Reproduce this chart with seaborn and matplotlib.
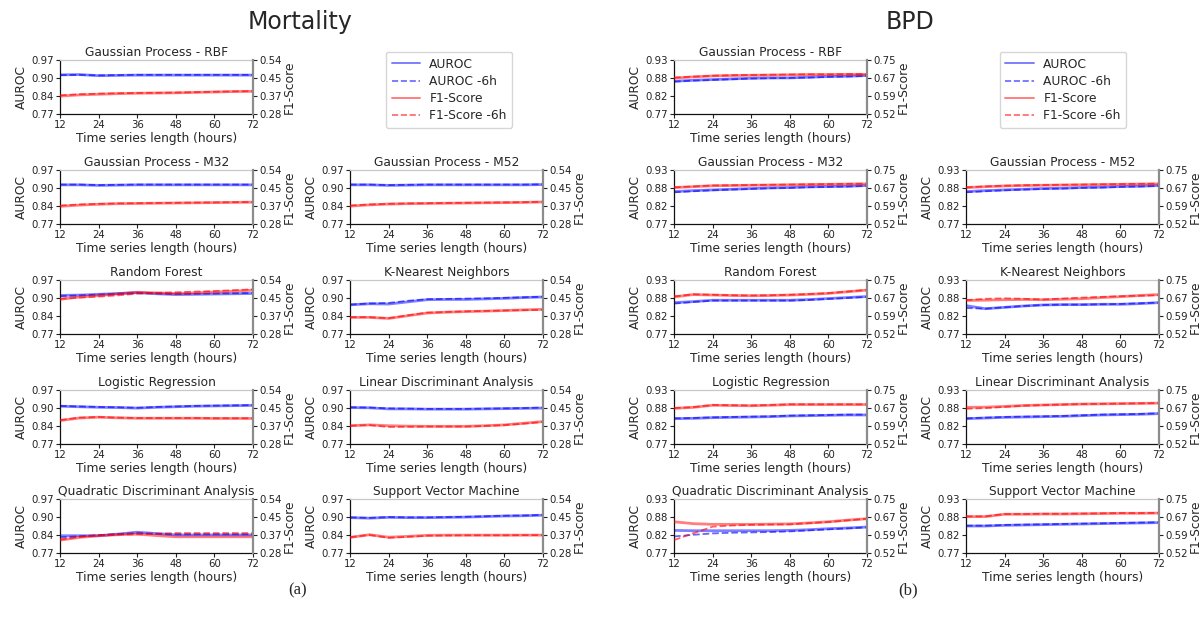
import numpy as np
import pandas as pd
import seaborn as sns
import matplotlib
matplotlib.use("Agg")
import matplotlib.pyplot as plt
from matplotlib.lines import Line2D

sns.set_style("ticks")
plt.rcParams['font.family'] = ['DejaVu Sans']

# ---------------- data ----------------
HOURS = [12, 18, 24, 30, 36, 42, 48, 54, 60, 66, 72]
XTICKS = [12, 24, 36, 48, 60, 72]

MODELS = ["Gaussian Process - RBF", "Gaussian Process - M32", "Gaussian Process - M52",
          "Random Forest", "K-Nearest Neighbors", "Logistic Regression",
          "Linear Discriminant Analysis", "Quadratic Discriminant Analysis",
          "Support Vector Machine"]

# Mortality
MORT_AUROC = {
    "Gaussian Process - RBF": [0.915, 0.916, 0.912, 0.913, 0.914, 0.914, 0.914, 0.914, 0.914, 0.914, 0.914],
    "Gaussian Process - M32": [0.915, 0.915, 0.913, 0.914, 0.915, 0.915, 0.915, 0.915, 0.915, 0.915, 0.915],
    "Gaussian Process - M52": [0.915, 0.915, 0.913, 0.914, 0.915, 0.915, 0.915, 0.915, 0.915, 0.915, 0.916],
    "Random Forest": [0.913, 0.914, 0.917, 0.920, 0.923, 0.919, 0.916, 0.917, 0.918, 0.919, 0.920],
    "K-Nearest Neighbors": [0.878, 0.882, 0.881, 0.889, 0.897, 0.898, 0.898, 0.900, 0.902, 0.905, 0.907],
    "Logistic Regression": [0.910, 0.908, 0.906, 0.905, 0.903, 0.906, 0.908, 0.910, 0.911, 0.912, 0.913],
    "Linear Discriminant Analysis": [0.905, 0.904, 0.900, 0.900, 0.899, 0.899, 0.899, 0.900, 0.901, 0.902, 0.903],
    "Quadratic Discriminant Analysis": [0.834, 0.834, 0.834, 0.840, 0.847, 0.842, 0.837, 0.837, 0.837, 0.837, 0.837],
    "Support Vector Machine": [0.901, 0.899, 0.902, 0.901, 0.901, 0.902, 0.903, 0.905, 0.907, 0.908, 0.910],
}
MORT_AUROC_6H = {
    "Gaussian Process - RBF": [0.914, 0.915, 0.913, 0.914, 0.915, 0.915, 0.915, 0.915, 0.915, 0.915, 0.915],
    "Gaussian Process - M32": [0.916, 0.916, 0.914, 0.915, 0.916, 0.916, 0.916, 0.916, 0.916, 0.916, 0.916],
    "Gaussian Process - M52": [0.916, 0.916, 0.914, 0.915, 0.916, 0.916, 0.916, 0.916, 0.916, 0.916, 0.917],
    "Random Forest": [0.910, 0.913, 0.916, 0.919, 0.922, 0.920, 0.918, 0.919, 0.920, 0.921, 0.922],
    "K-Nearest Neighbors": [0.879, 0.883, 0.885, 0.893, 0.899, 0.900, 0.901, 0.902, 0.904, 0.906, 0.908],
    "Logistic Regression": [0.911, 0.909, 0.907, 0.906, 0.904, 0.907, 0.909, 0.911, 0.912, 0.913, 0.914],
    "Linear Discriminant Analysis": [0.906, 0.905, 0.902, 0.901, 0.900, 0.900, 0.900, 0.901, 0.902, 0.903, 0.905],
    "Quadratic Discriminant Analysis": [0.828, 0.832, 0.836, 0.840, 0.844, 0.841, 0.839, 0.839, 0.839, 0.839, 0.839],
    "Support Vector Machine": [0.902, 0.900, 0.903, 0.902, 0.902, 0.903, 0.904, 0.906, 0.908, 0.909, 0.911],
}
MORT_F1 = {
    "Gaussian Process - RBF": [0.366, 0.372, 0.375, 0.378, 0.380, 0.381, 0.382, 0.384, 0.386, 0.388, 0.389],
    "Gaussian Process - M32": [0.365, 0.371, 0.375, 0.378, 0.379, 0.380, 0.381, 0.382, 0.383, 0.384, 0.385],
    "Gaussian Process - M52": [0.366, 0.372, 0.376, 0.378, 0.379, 0.380, 0.381, 0.382, 0.383, 0.384, 0.386],
    "Random Forest": [0.447, 0.458, 0.465, 0.473, 0.481, 0.478, 0.475, 0.478, 0.482, 0.486, 0.491],
    "K-Nearest Neighbors": [0.360, 0.360, 0.355, 0.368, 0.381, 0.385, 0.388, 0.390, 0.393, 0.396, 0.399],
    "Logistic Regression": [0.393, 0.405, 0.409, 0.406, 0.404, 0.404, 0.404, 0.404, 0.403, 0.403, 0.403],
    "Linear Discriminant Analysis": [0.368, 0.372, 0.368, 0.366, 0.365, 0.365, 0.365, 0.368, 0.372, 0.380, 0.388],
    "Quadratic Discriminant Analysis": [0.342, 0.355, 0.363, 0.368, 0.371, 0.364, 0.358, 0.358, 0.358, 0.358, 0.358],
    "Support Vector Machine": [0.355, 0.368, 0.356, 0.360, 0.365, 0.366, 0.366, 0.366, 0.366, 0.366, 0.366],
}
MORT_F1_6H = {
    "Gaussian Process - RBF": [0.370, 0.375, 0.378, 0.380, 0.381, 0.382, 0.383, 0.385, 0.387, 0.389, 0.390],
    "Gaussian Process - M32": [0.369, 0.374, 0.377, 0.379, 0.380, 0.381, 0.382, 0.383, 0.384, 0.385, 0.386],
    "Gaussian Process - M52": [0.369, 0.374, 0.377, 0.379, 0.380, 0.381, 0.382, 0.383, 0.384, 0.385, 0.387],
    "Random Forest": [0.450, 0.455, 0.460, 0.466, 0.474, 0.478, 0.481, 0.484, 0.487, 0.491, 0.495],
    "K-Nearest Neighbors": [0.361, 0.361, 0.356, 0.370, 0.383, 0.386, 0.389, 0.391, 0.393, 0.395, 0.396],
    "Logistic Regression": [0.395, 0.407, 0.410, 0.407, 0.405, 0.405, 0.405, 0.405, 0.404, 0.404, 0.404],
    "Linear Discriminant Analysis": [0.368, 0.371, 0.362, 0.363, 0.364, 0.364, 0.364, 0.367, 0.371, 0.378, 0.386],
    "Quadratic Discriminant Analysis": [0.345, 0.357, 0.366, 0.369, 0.370, 0.373, 0.376, 0.376, 0.376, 0.376, 0.376],
    "Support Vector Machine": [0.356, 0.367, 0.353, 0.358, 0.363, 0.364, 0.365, 0.365, 0.365, 0.366, 0.366],
}

# BPD
BPD_AUROC = {
    "Gaussian Process - RBF": [0.867, 0.870, 0.872, 0.874, 0.876, 0.877, 0.877, 0.879, 0.881, 0.882, 0.884],
    "Gaussian Process - M32": [0.866, 0.869, 0.871, 0.873, 0.875, 0.877, 0.878, 0.880, 0.881, 0.882, 0.884],
    "Gaussian Process - M52": [0.866, 0.869, 0.871, 0.873, 0.875, 0.876, 0.878, 0.879, 0.881, 0.882, 0.884],
    "Random Forest": [0.863, 0.866, 0.870, 0.870, 0.870, 0.870, 0.870, 0.872, 0.875, 0.878, 0.881],
    "K-Nearest Neighbors": [0.854, 0.845, 0.849, 0.853, 0.856, 0.857, 0.857, 0.858, 0.858, 0.860, 0.863],
    "Logistic Regression": [0.845, 0.846, 0.848, 0.849, 0.850, 0.851, 0.853, 0.854, 0.855, 0.856, 0.856],
    "Linear Discriminant Analysis": [0.845, 0.847, 0.849, 0.850, 0.851, 0.852, 0.854, 0.856, 0.857, 0.858, 0.860],
    "Quadratic Discriminant Analysis": [0.837, 0.836, 0.836, 0.836, 0.836, 0.836, 0.837, 0.839, 0.842, 0.844, 0.847],
    "Support Vector Machine": [0.850, 0.850, 0.852, 0.853, 0.854, 0.855, 0.856, 0.857, 0.858, 0.859, 0.860],
}
BPD_AUROC_6H = {
    "Gaussian Process - RBF": [0.866, 0.869, 0.871, 0.873, 0.875, 0.876, 0.877, 0.878, 0.880, 0.881, 0.883],
    "Gaussian Process - M32": [0.864, 0.867, 0.870, 0.872, 0.874, 0.876, 0.877, 0.879, 0.880, 0.881, 0.883],
    "Gaussian Process - M52": [0.864, 0.867, 0.870, 0.872, 0.874, 0.875, 0.877, 0.878, 0.880, 0.881, 0.883],
    "Random Forest": [0.860, 0.865, 0.869, 0.869, 0.869, 0.869, 0.869, 0.871, 0.874, 0.877, 0.880],
    "K-Nearest Neighbors": [0.847, 0.845, 0.849, 0.853, 0.856, 0.857, 0.857, 0.858, 0.859, 0.861, 0.863],
    "Logistic Regression": [0.846, 0.847, 0.849, 0.850, 0.851, 0.852, 0.854, 0.855, 0.856, 0.857, 0.857],
    "Linear Discriminant Analysis": [0.846, 0.848, 0.850, 0.851, 0.852, 0.853, 0.855, 0.857, 0.858, 0.859, 0.861],
    "Quadratic Discriminant Analysis": [0.819, 0.824, 0.828, 0.830, 0.831, 0.832, 0.834, 0.837, 0.840, 0.843, 0.846],
    "Support Vector Machine": [0.851, 0.851, 0.853, 0.854, 0.855, 0.856, 0.857, 0.858, 0.859, 0.860, 0.861],
}
BPD_F1 = {
    "Gaussian Process - RBF": [0.673, 0.678, 0.682, 0.684, 0.685, 0.686, 0.687, 0.688, 0.688, 0.689, 0.689],
    "Gaussian Process - M32": [0.675, 0.679, 0.683, 0.684, 0.685, 0.686, 0.687, 0.688, 0.689, 0.690, 0.691],
    "Gaussian Process - M52": [0.675, 0.679, 0.682, 0.684, 0.685, 0.686, 0.687, 0.688, 0.689, 0.690, 0.691],
    "Random Forest": [0.678, 0.688, 0.686, 0.684, 0.683, 0.684, 0.686, 0.689, 0.693, 0.700, 0.707],
    "K-Nearest Neighbors": [0.663, 0.664, 0.666, 0.667, 0.666, 0.668, 0.670, 0.675, 0.679, 0.684, 0.688],
    "Logistic Regression": [0.672, 0.676, 0.685, 0.684, 0.683, 0.685, 0.688, 0.688, 0.688, 0.688, 0.688],
    "Linear Discriminant Analysis": [0.676, 0.677, 0.680, 0.684, 0.686, 0.688, 0.690, 0.691, 0.692, 0.693, 0.694],
    "Quadratic Discriminant Analysis": [0.653, 0.645, 0.642, 0.642, 0.642, 0.643, 0.644, 0.648, 0.653, 0.660, 0.666],
    "Support Vector Machine": [0.675, 0.675, 0.685, 0.685, 0.686, 0.686, 0.687, 0.688, 0.689, 0.689, 0.690],
}
BPD_F1_6H = {
    "Gaussian Process - RBF": [0.675, 0.679, 0.683, 0.685, 0.686, 0.687, 0.688, 0.689, 0.689, 0.690, 0.690],
    "Gaussian Process - M32": [0.676, 0.680, 0.684, 0.685, 0.686, 0.687, 0.688, 0.689, 0.690, 0.691, 0.692],
    "Gaussian Process - M52": [0.676, 0.680, 0.683, 0.685, 0.686, 0.687, 0.688, 0.689, 0.690, 0.691, 0.692],
    "Random Forest": [0.680, 0.689, 0.687, 0.685, 0.684, 0.685, 0.687, 0.690, 0.694, 0.701, 0.708],
    "K-Nearest Neighbors": [0.664, 0.670, 0.672, 0.670, 0.667, 0.671, 0.675, 0.678, 0.681, 0.683, 0.685],
    "Logistic Regression": [0.673, 0.677, 0.686, 0.685, 0.684, 0.686, 0.689, 0.689, 0.689, 0.689, 0.689],
    "Linear Discriminant Analysis": [0.670, 0.673, 0.678, 0.683, 0.686, 0.688, 0.690, 0.691, 0.692, 0.693, 0.694],
    "Quadratic Discriminant Analysis": [0.575, 0.604, 0.632, 0.637, 0.640, 0.641, 0.642, 0.647, 0.652, 0.659, 0.666],
    "Support Vector Machine": [0.676, 0.676, 0.686, 0.686, 0.687, 0.687, 0.688, 0.689, 0.690, 0.690, 0.691],
}

MORT_AUROC_TICKS = ["0.77", "0.84", "0.90", "0.97"]
MORT_F1_TICKS = ["0.28", "0.37", "0.45", "0.54"]
BPD_AUROC_TICKS = ["0.77", "0.82", "0.88", "0.93"]
BPD_F1_TICKS = ["0.52", "0.59", "0.67", "0.75"]

PANELS = [
    dict(title="Mortality", caption="(a)", auroc=MORT_AUROC, auroc6=MORT_AUROC_6H,
         f1=MORT_F1, f16=MORT_F1_6H, alim=(0.77, 0.97), flim=(0.28, 0.54),
         aticks=MORT_AUROC_TICKS, fticks=MORT_F1_TICKS),
    dict(title="BPD", caption="(b)", auroc=BPD_AUROC, auroc6=BPD_AUROC_6H,
         f1=BPD_F1, f16=BPD_F1_6H, alim=(0.77, 0.93), flim=(0.52, 0.75),
         aticks=BPD_AUROC_TICKS, fticks=BPD_F1_TICKS),
]

# ---------------- layout ----------------
W, H = 1201, 628
fig = plt.figure(figsize=(W / 100, H / 100), dpi=100)

COL_LEFT = [[60, 350], [674, 966]]
AX_W = 193
ROW_TOP = [60, 170, 280, 390, 499]
AX_H = 54
# grid cell for each model (row, col); (0,1) is the legend
CELLS = [(0, 0), (1, 0), (1, 1), (2, 0), (2, 1), (3, 0), (3, 1), (4, 0), (4, 1)]

TICK_FS = 7.3
LAB_FS = 8.8
BLUE = "#0000ff"
RED = "#ff0000"


def draw(ax, vals, color, ls, alpha, lw):
    df = pd.DataFrame({"hours": HOURS, "v": vals})
    sns.lineplot(data=df, x="hours", y="v", ax=ax, color=color, linestyle=ls,
                 alpha=alpha, linewidth=lw, legend=False)


for p_i, P in enumerate(PANELS):
    for m_i, model in enumerate(MODELS):
        r, c = CELLS[m_i]
        left = COL_LEFT[p_i][c]
        top = ROW_TOP[r]
        ax = fig.add_axes([left / W, 1 - (top + AX_H) / H, AX_W / W, AX_H / H])
        ax2 = ax.twinx()

        draw(ax, P["auroc"][model], BLUE, "-", 0.5, 2.0)
        draw(ax, P["auroc6"][model], BLUE, "--", 0.6, 1.3)
        draw(ax2, P["f1"][model], RED, "-", 0.5, 2.0)
        draw(ax2, P["f16"][model], RED, "--", 0.6, 1.3)

        ax.set_xlim(12, 72)
        ax.set_xticks(XTICKS)
        ax.set_xticklabels([str(t) for t in XTICKS])
        ax.set_ylim(*P["alim"])
        ax.set_yticks(np.linspace(P["alim"][0], P["alim"][1], 4))
        ax.set_yticklabels(P["aticks"])
        ax2.set_ylim(*P["flim"])
        ax2.set_yticks(np.linspace(P["flim"][0], P["flim"][1], 4))
        ax2.set_yticklabels(P["fticks"])

        ax.set_title(model, fontsize=LAB_FS, pad=3)
        ax.set_xlabel("Time series length (hours)", fontsize=LAB_FS, labelpad=1)
        ax.set_ylabel("AUROC", fontsize=LAB_FS, labelpad=2)
        ax2.set_ylabel("F1-Score", fontsize=LAB_FS, labelpad=0.5)

        ax.tick_params(axis="both", labelsize=TICK_FS, length=3, width=0.8, pad=1.5,
                       colors="#222222")
        ax2.tick_params(axis="y", labelsize=TICK_FS, length=3, width=0.8, pad=1.5,
                        colors="#222222")

        for s in ["left", "bottom"]:
            ax.spines[s].set_color("#111111")
            ax.spines[s].set_linewidth(0.9)
        ax.spines["top"].set_visible(True)
        ax.spines["top"].set_color("#c8c8c8")
        ax.spines["top"].set_linewidth(0.9)
        ax.spines["right"].set_visible(False)
        for s in ["left", "bottom", "top"]:
            ax2.spines[s].set_visible(False)
        ax2.spines["right"].set_visible(True)
        ax2.spines["right"].set_color("#8c8c8c")
        ax2.spines["right"].set_linewidth(1.6)

    # legend in the top-right cell of the panel
    handles = [
        Line2D([], [], color=BLUE, ls="-", alpha=0.5, lw=1.4),
        Line2D([], [], color=BLUE, ls="--", alpha=0.6, lw=1.2),
        Line2D([], [], color=RED, ls="-", alpha=0.5, lw=1.4),
        Line2D([], [], color=RED, ls="--", alpha=0.6, lw=1.2),
    ]
    lx = [386, 1000][p_i]
    fig.legend(handles, ["AUROC", "AUROC -6h", "F1-Score", "F1-Score -6h"],
               loc="upper left", bbox_to_anchor=(lx / W, 1 - 52 / H),
               borderaxespad=0, fontsize=LAB_FS, frameon=True, handlelength=2.3,
               borderpad=0.45, labelspacing=0.35, handletextpad=0.8, fancybox=True,
               edgecolor="#cccccc")

    cx = [300, 910][p_i]
    fig.text(cx / W, 1 - 22 / H, P["title"], fontsize=17, ha="center", va="center")
    fig.text(cx / W - 0.002, 1 - 590 / H, P["caption"], fontsize=12, ha="center",
             va="center", family=["Liberation Serif", "DejaVu Serif"])

fig.savefig("out.png", dpi=100, facecolor="white")
